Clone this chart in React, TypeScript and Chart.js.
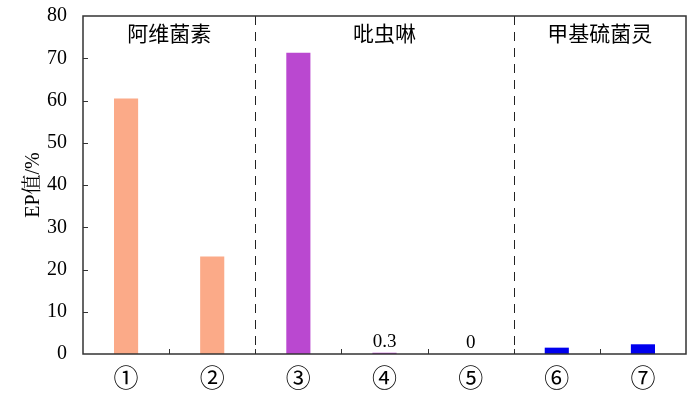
import React, { useEffect, useRef } from "react";
import { Chart, registerables } from "chart.js";

Chart.register(...registerables);

const categories = ["①", "②", "③", "④", "⑤", "⑥", "⑦"];
const epValues = [60.5, 23.1, 71.3, 0.3, 0, 1.5, 2.3];
const valueLabels = ["", "", "", "0.3", "0", "", ""];
const barColors = ["#FBAA88", "#FBAA88", "#BA48D0", "#BA48D0", "#BA48D0", "#0000EE", "#0000EE"];
const groups = ["阿维菌素", "吡虫啉", "甲基硫菌灵"];
const groupRanges = [[0, 1], [2, 4], [5, 6]];
const yTicks = [0, 10, 20, 30, 40, 50, 60, 70, 80];

const SERIF = '"Liberation Serif", "Times New Roman", "Noto Serif CJK SC", serif';
const CJK = '"Noto Sans CJK SC", "Liberation Serif", serif';

const framePlugin = {
  id: "frame",
  afterDraw(chart: any) {
    const ctx = chart.ctx;
    const { left, right, top, bottom } = chart.chartArea;
    const x = chart.scales.x;
    const y = chart.scales.y;
    ctx.save();
    ctx.strokeStyle = "#333";
    ctx.lineWidth = 1;
    yTicks.forEach((v) => {
      if (v === 0 || v === 80) return;
      const py = Math.round(y.getPixelForValue(v)) + 0.5;
      ctx.beginPath();
      ctx.moveTo(left, py);
      ctx.lineTo(left + 5, py);
      ctx.stroke();
    });
    const boundaries: number[] = [];
    for (let i = 0; i < categories.length - 1; i++) {
      boundaries.push((x.getPixelForValue(i) + x.getPixelForValue(i + 1)) / 2);
    }
    boundaries.forEach((bx) => {
      const px = Math.round(bx) + 0.5;
      ctx.beginPath();
      ctx.moveTo(px, bottom);
      ctx.lineTo(px, bottom - 5);
      ctx.stroke();
    });
    ctx.setLineDash([9, 7]);
    ctx.strokeStyle = "#222";
    [1, 4].forEach((i) => {
      const px = Math.round(boundaries[i]) + 0.5;
      ctx.beginPath();
      ctx.moveTo(px, top);
      ctx.lineTo(px, bottom);
      ctx.stroke();
    });
    ctx.setLineDash([]);
    ctx.strokeStyle = "#333";
    ctx.lineWidth = 1.5;
    ctx.strokeRect(left, top, right - left, bottom - top);
    ctx.fillStyle = "#000";
    ctx.font = "21px " + CJK;
    ctx.textAlign = "center";
    ctx.textBaseline = "middle";
    groups.forEach((g, gi) => {
      const [a, b] = groupRanges[gi];
      const l = a === 0 ? left : boundaries[a - 1];
      const r = b === categories.length - 1 ? right : boundaries[b];
      ctx.fillText(g, (l + r) / 2, top + 17);
    });
    ctx.font = "19px " + SERIF;
    ctx.textBaseline = "alphabetic";
    valueLabels.forEach((t, i) => {
      if (!t) return;
      const px = x.getPixelForValue(i);
      const py = y.getPixelForValue(epValues[i]);
      ctx.fillText(t, px, py - 6);
    });
    ctx.restore();
  },
};

export default function App() {
  const ref = useRef<HTMLCanvasElement>(null);
  useEffect(() => {
    document.body.style.margin = "0";
    const chart = new Chart(ref.current!, {
      type: "bar",
      data: {
        labels: categories,
        datasets: [
          {
            data: epValues,
            backgroundColor: barColors,
            borderWidth: 0,
            barPercentage: 0.28,
            categoryPercentage: 1,
          },
        ],
      },
      options: {
        animation: false,
        responsive: false,
        layout: { padding: { top: 16, right: 14, left: 0, bottom: 0 } },
        plugins: { legend: { display: false }, tooltip: { enabled: false } },
        scales: {
          x: {
            grid: { display: false },
            border: { display: false },
            ticks: {
              color: "#000",
              font: { family: CJK, size: 25 },
              padding: 0,
            },
            afterFit(scale: any) {
              scale.height = 39;
              scale.paddingLeft = 0;
              scale.paddingRight = 0;
            },
          },
          y: {
            min: 0,
            max: 80,
            grid: { display: false },
            border: { display: false },
            ticks: {
              stepSize: 10,
              color: "#000",
              font: { family: SERIF, size: 20 },
              padding: 8,
            },
            title: {
              display: true,
              text: "EP值/%",
              color: "#000",
              font: { family: SERIF, size: 20 },
              padding: { top: 22, bottom: 0 },
            },
            afterFit(scale: any) {
              scale.width = 83;
              scale.paddingTop = 0;
              scale.paddingBottom = 0;
            },
          },
        },
      },
      plugins: [framePlugin],
    });
    return () => chart.destroy();
  }, []);
  return (
    <div style={{ width: 700, height: 393 }}>
      <canvas ref={ref} width={700} height={393} style={{ display: "block", background: "#fff" }} />
    </div>
  );
}
